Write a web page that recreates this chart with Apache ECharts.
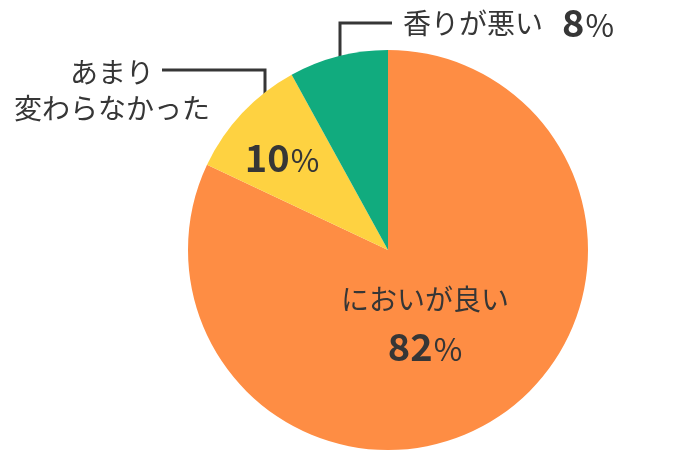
<!DOCTYPE html>
<html><head><meta charset="utf-8">
<script src="https://cdn.jsdelivr.net/npm/echarts@6/dist/echarts.min.js"></script>
<style>html,body{margin:0;padding:0;background:#fff}#c{width:700px;height:450px}</style>
</head><body><div id="c"></div>
<script>
var categories = ['においが良い', 'あまり変わらなかった', '香りが悪い'];
var values = [82, 10, 8];
var colors = ['#FE8D44', '#FED241', '#11AB7E'];

var FONT = '"Noto Sans CJK JP", "Noto Sans", sans-serif';
var TXT = '#363636';
var rich = {
  n: {fontSize: 28, fontFamily: FONT, color: TXT, lineHeight: 40},
  v: {fontSize: 38, fontWeight: 'bold', fontFamily: FONT, color: TXT, lineHeight: 56},
  p: {fontSize: 31, fontFamily: FONT, color: TXT, lineHeight: 56, padding: [4, 0, 0, 1]},
  g: {fontSize: 28, fontFamily: FONT, color: TXT, lineHeight: 40, padding: [0, 19, 0, 0]},
  gv: {fontSize: 38, fontWeight: 'bold', fontFamily: FONT, color: TXT, lineHeight: 40},
  gp: {fontSize: 31, fontFamily: FONT, color: TXT, lineHeight: 40, padding: [4, 0, 0, 1]}
};

var data = categories.map(function (c, i) {
  return {name: c, value: values[i], itemStyle: {color: colors[i]}};
});

var chart = echarts.init(document.getElementById('c'));
chart.setOption({
  animation: false,
  series: [{
    type: 'pie',
    center: [388, 250],
    radius: [0, 200],
    startAngle: 90,
    clockwise: true,
    data: data,
    labelLine: {show: false},
    label: {
      show: true,
      position: 'inside',
      formatter: function (p) {
        if (p.dataIndex === 0) return '{n|' + p.name + '}\n{v|' + p.value + '}{p|%}';
        if (p.dataIndex === 1) return '{v|' + p.value + '}{p|%}';
        return '{g|' + p.name + '}{gv|' + p.value + '}{gp|%}';
      },
      rich: rich
    },
    labelLayout: function (p) {
      if (p.dataIndex === 0) return {x: 425, y: 327, align: 'center', verticalAlign: 'middle'};
      if (p.dataIndex === 1) return {x: 282, y: 158, align: 'center', verticalAlign: 'middle'};
      return {x: 403, y: 23, align: 'left', verticalAlign: 'middle'};
    }
  }],
  graphic: [
    {type: 'polyline', shape: {points: [[340, 75], [340, 23], [392, 23]]},
     style: {stroke: TXT, lineWidth: 3, fill: null}},
    {type: 'polyline', shape: {points: [[162, 70], [265, 70], [265, 109]]},
     style: {stroke: TXT, lineWidth: 3, fill: null}},
    {type: 'text', x: 112, y: 90,
     style: {text: categories[1].slice(0, 3) + '\n' + categories[1].slice(3),
       font: '28px ' + FONT, fill: TXT, textAlign: 'center', textVerticalAlign: 'middle', lineHeight: 36}}
  ]
});
</script></body></html>
